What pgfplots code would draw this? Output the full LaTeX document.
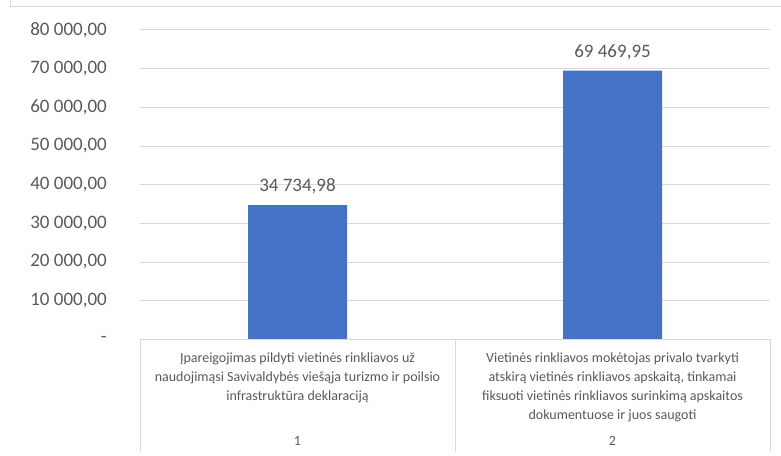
\documentclass[border=0pt]{standalone}
\usepackage{pgfplots}
\pgfplotsset{compat=1.18}
\usepackage{fontspec}
\setmainfont{Carlito}
\definecolor{barblue}{HTML}{4472C4}
\definecolor{gridgray}{HTML}{D9D9D9}
\definecolor{txtgray}{HTML}{595959}
\begin{document}
\begin{tikzpicture}[x=1bp,y=1bp]
\useasboundingbox (0,0) rectangle (781,456);
% chart area border (cropped on the right and bottom)
\draw[gridgray, line width=1bp] (10.5,456) -- (10.5,449) -- (781,449);
\begin{axis}[
    at={(140bp,116.6bp)}, anchor=south west,
    scale only axis,
    width=630bp, height=309.4bp,
    xmin=0, xmax=2,
    ymin=0, ymax=80000,
    scaled y ticks=false,
    axis line style={draw=none},
    major tick style={draw=none},
    xtick=\empty,
    ytick={0,10000,...,80000},
    yticklabels={{-\hspace{13bp}},{10~000,00},{20~000,00},{30~000,00},{40~000,00},{50~000,00},{60~000,00},{70~000,00},{80~000,00}},
    yticklabel style={font=\fontsize{19bp}{22bp}\selectfont, text=txtgray, anchor=east, inner sep=0pt, xshift=-33bp},
    ymajorgrids,
    grid style={gridgray, line width=1bp},
    clip=false,
]
\addplot[ybar, bar width=99bp, fill=barblue, draw=none,
    nodes near coords, point meta=explicit symbolic,
    nodes near coords style={font=\fontsize{19bp}{22bp}\selectfont, text=txtgray, anchor=south, inner sep=0pt, yshift=11bp}]
    coordinates {
        (0.5,34734.98) [34~734,98]
        (1.5,69469.95) [69~469,95]
    };
\end{axis}
% multi-level category table
\draw[gridgray, line width=1bp] (140,116.6) -- (770,116.6);
\draw[gridgray, line width=1bp] (140,116.6) -- (140,4);
\draw[gridgray, line width=1bp] (455,116.6) -- (455,4);
\draw[gridgray, line width=1bp] (770,116.6) -- (770,4);
\node[anchor=north, align=center, text=txtgray, font=\fontsize{14bp}{19bp}\selectfont, inner sep=0pt] at (297.5,103)
    {Įpareigojimas pildyti vietinės rinkliavos už\\naudojimąsi Savivaldybės viešąja turizmo ir poilsio\\infrastruktūra deklaraciją};
\node[anchor=north, align=center, text=txtgray, font=\fontsize{14bp}{19bp}\selectfont, inner sep=0pt] at (612.5,103)
    {Vietinės rinkliavos mokėtojas privalo tvarkyti\\atskirą vietinės rinkliavos apskaitą, tinkamai\\fiksuoti vietinės rinkliavos surinkimą apskaitos\\dokumentuose ir juos saugoti};
\node[text=txtgray, font=\fontsize{14bp}{16bp}\selectfont] at (297.5,15) {1};
\node[text=txtgray, font=\fontsize{14bp}{16bp}\selectfont] at (612.5,15) {2};
\end{tikzpicture}
\end{document}
